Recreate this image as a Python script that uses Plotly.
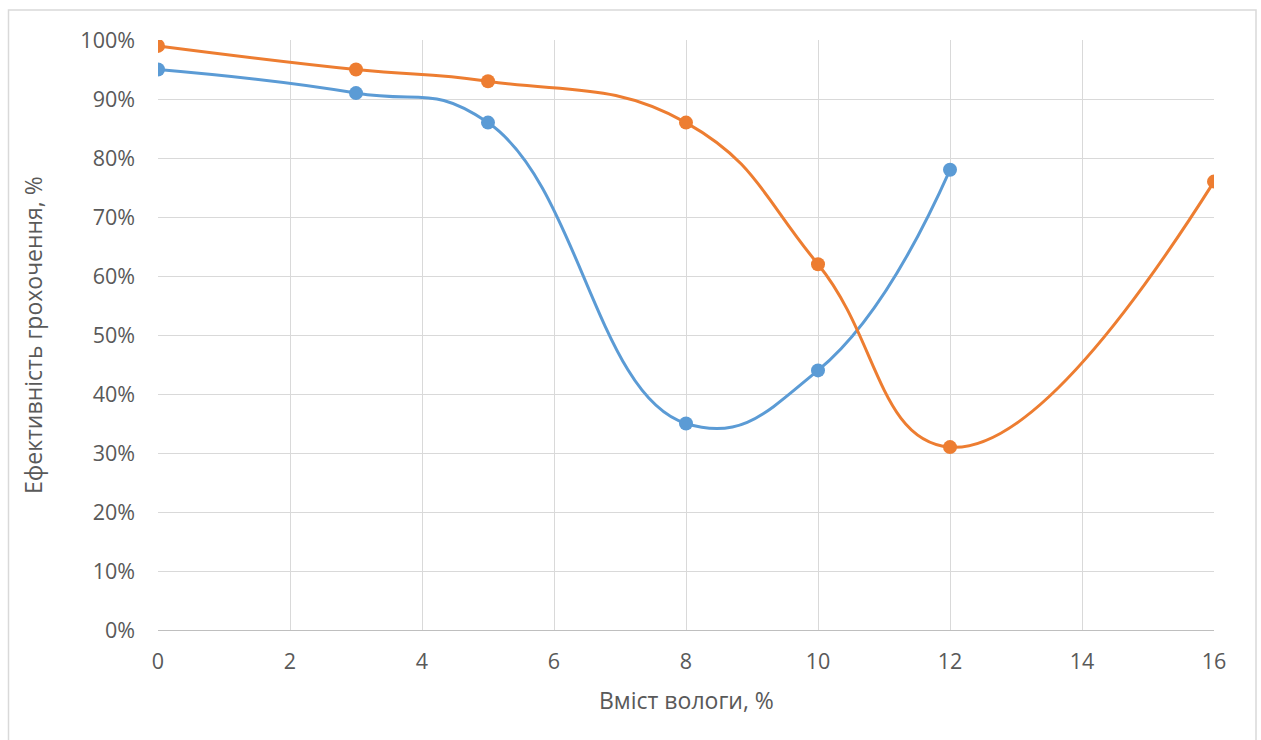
import plotly.graph_objects as go

# Moisture content, % (x) and screening efficiency, % (y)
moisture_a = [0, 3, 5, 8, 10, 12]
efficiency_a = [95, 91, 86, 35, 44, 78]

moisture_b = [0, 3, 5, 8, 10, 12, 16]
efficiency_b = [99, 95, 93, 86, 62, 31, 76]

x_ticks = [0, 2, 4, 6, 8, 10, 12, 14, 16]
y_ticks = [0, 10, 20, 30, 40, 50, 60, 70, 80, 90, 100]

BLUE = "#5B9BD5"
ORANGE = "#ED7D31"
TEXT = "#595959"
GRID = "#D9D9D9"
FONT = "Open Sans"

fig = go.Figure()
fig.add_trace(go.Scatter(
    x=moisture_a, y=efficiency_a, mode="lines+markers",
    line=dict(color=BLUE, width=3, shape="spline", smoothing=1.3),
    marker=dict(color=BLUE, size=14), showlegend=False,
))
fig.add_trace(go.Scatter(
    x=moisture_b, y=efficiency_b, mode="lines+markers",
    line=dict(color=ORANGE, width=3, shape="spline", smoothing=1.3),
    marker=dict(color=ORANGE, size=14), showlegend=False,
))

W, H = 1261, 740
L, R, T, B = 158, 47, 40, 110
pw, ph = W - L - R, H - T - B

def px_to_paper_x(px):
    return (px - L) / pw

def px_to_paper_y(py):
    return (H - B - py) / ph

fig.update_layout(
    width=W, height=H,
    margin=dict(l=L, r=R, t=T, b=B),
    paper_bgcolor="white", plot_bgcolor="white",
    font=dict(family=FONT, color=TEXT, size=21),
    xaxis=dict(
        range=[0, 16], tickvals=x_ticks, ticktext=[str(v) for v in x_ticks],
        showgrid=True, gridcolor=GRID, gridwidth=1,
        showline=True, linecolor="#BFBFBF", linewidth=1,
        zeroline=False, ticks="", ticklabelstandoff=12,
        tickfont=dict(size=21.5, color=TEXT, family=FONT),
    ),
    yaxis=dict(
        range=[0, 100], tickvals=y_ticks, ticktext=[f"{v}%" for v in y_ticks],
        showgrid=True, gridcolor=GRID, gridwidth=1,
        zeroline=False, ticks="", ticklabelstandoff=22,
        tickfont=dict(size=21.5, color=TEXT, family=FONT),
    ),
    shapes=[
        dict(type="rect", xref="paper", yref="paper",
             x0=px_to_paper_x(8.5), x1=px_to_paper_x(1256),
             y0=px_to_paper_y(760), y1=px_to_paper_y(10),
             line=dict(color="#D9D9D9", width=1.5), fillcolor="rgba(0,0,0,0)",
             layer="below"),
    ],
    annotations=[
        dict(text="Вміст вологи, %", xref="paper", yref="paper",
             x=0.5, y=px_to_paper_y(700), xanchor="center", yanchor="middle",
             showarrow=False, font=dict(size=23, color=TEXT, family=FONT)),
        dict(text="Ефективність грохочення, %", xref="paper", yref="paper",
             x=px_to_paper_x(33), y=px_to_paper_y(335), xanchor="center", yanchor="middle",
             textangle=-90, showarrow=False, font=dict(size=23, color=TEXT, family=FONT)),
    ],
)

fig.write_html("out.html")
